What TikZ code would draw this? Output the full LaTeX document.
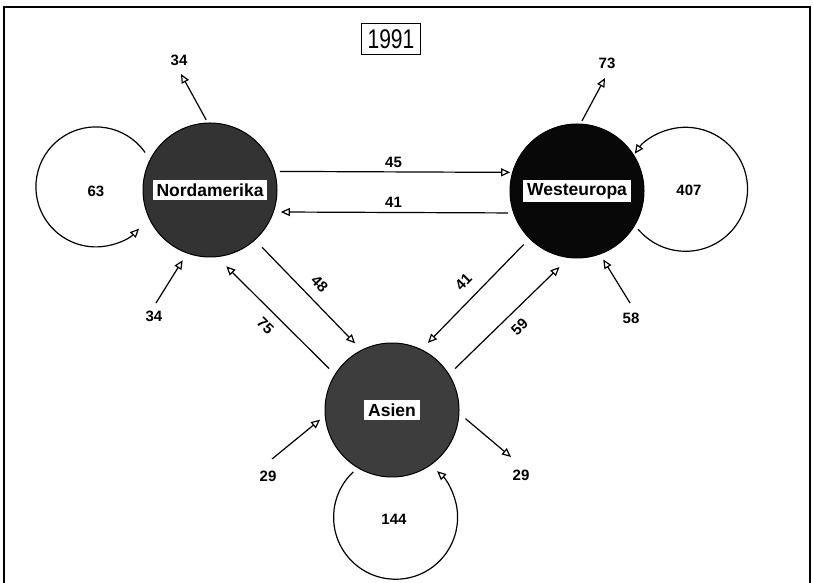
\documentclass[tikz,border=0pt]{standalone}
\usepackage{fontspec}
\setmainfont{Liberation Sans}
\usetikzlibrary{arrows.meta}

\tikzset{
  region/.style={circle, draw=black, line width=1pt, minimum size=134pt, inner sep=0pt},
  tag/.style={fill=white, inner xsep=4pt, inner ysep=3.5pt, font=\fontsize{17.5}{17.5}\selectfont\bfseries},
  num/.style={inner sep=2pt, font=\fontsize{15}{15}\selectfont\bfseries},
  flow/.style={line width=1.2pt, -{Triangle[open, length=9pt, width=8pt, line width=1.2pt]}},
}

\begin{document}
\begin{tikzpicture}[x=1pt, y=1pt]
			%%%%% START %%%%%
			\useasboundingbox (0, 0) rectangle (813, 583);
			\draw[line width=1.6pt] (4, 0) -- (4, 576) -- (810, 576) -- (810, 0);
			
			\node[draw, line width=1pt, inner xsep=6pt, inner ysep=6pt, font=\fontsize{27}{27}\selectfont] (year) at (391, 544) {\scalebox{0.78}[1]{1991}};
			
			\node[region, fill=black!80] (na) at (210, 393) {};
			\node[region, fill=black!97] (we) at (577, 392) {};
			\node[region, fill=black!76] (as) at (392, 173) {};
			\node[tag] at (na) {Nordamerika};
			\node[tag] at (we) {Westeuropa};
			\node[tag] at (as) {Asien};
			
			\coordinate (na-up) at (181, 509);
			\coordinate (na-in) at (156, 280);
			\coordinate (we-up) at (605, 505);
			\coordinate (we-in) at (630, 280);
			\coordinate (as-in) at (272, 124);
			\coordinate (as-out) at (511, 126);
			
			\draw[flow, shorten <=5pt, shorten >=2pt] (na.16) -- (we.164) node[num, midway, above=2pt] {45};
			\draw[flow, shorten <=5pt, shorten >=7pt] (we.199) -- (na.-19) node[num, midway, above=2pt] {41};
			
			\draw[flow, shorten <=10pt, shorten >=9pt] (na.-48) -- (as.117) node[num, midway, sloped, above=8pt] {48};
			\draw[flow, shorten <=8pt, shorten >=13pt] (as.148) -- (na.-84) node[num, midway, sloped, below=7pt] {75};
			\draw[flow, shorten <=8pt, shorten >=9pt] (we.-135) -- (as.64) node[num, midway, sloped, above=9pt] {41};
			\draw[flow, shorten <=8pt, shorten >=13pt] (as.32) -- (we.-97) node[num, midway, sloped, below=7pt] {59};
			
			\draw[flow, shorten <=3pt] (na.92) -- (na-up);
			\draw[flow, shorten >=8pt] (na-in) -- (na.250);
			\draw[flow, shorten <=3pt] (we.87) -- (we-up);
			\draw[flow, shorten >=6pt] (we-in) -- (we.290);
			\draw[flow, shorten >=6pt] (as-in) -- (as.185);
			\draw[flow, shorten <=8pt] (as.-3) -- (as-out);
			
			\node[num] at (179, 523) {34};
			\node[num] at (154, 267) {34};
			\node[num] at (607, 520) {73};
			\node[num] at (631, 265) {58};
			\node[num] at (268, 107) {29};
			\node[num] at (521, 108) {29};
			
			% loops
			\draw[flow] ([shift={(150:75)}]na.center) arc[start angle=35, end angle=316, radius=60];
			\draw[flow] ([shift={(-32:72)}]we.center) arc[start angle=220, end angle=505, radius=62];
			\draw[flow] ([shift={(238:73)}]as.center) arc[start angle=133, end angle=408, radius=62];
			
			\node[num] at (96, 392) {63};
			\node[num] at (689, 393) {407};
			\node[num] at (394, 64) {144};
			%%%%% END %%%%%
\end{tikzpicture}
\end{document}
